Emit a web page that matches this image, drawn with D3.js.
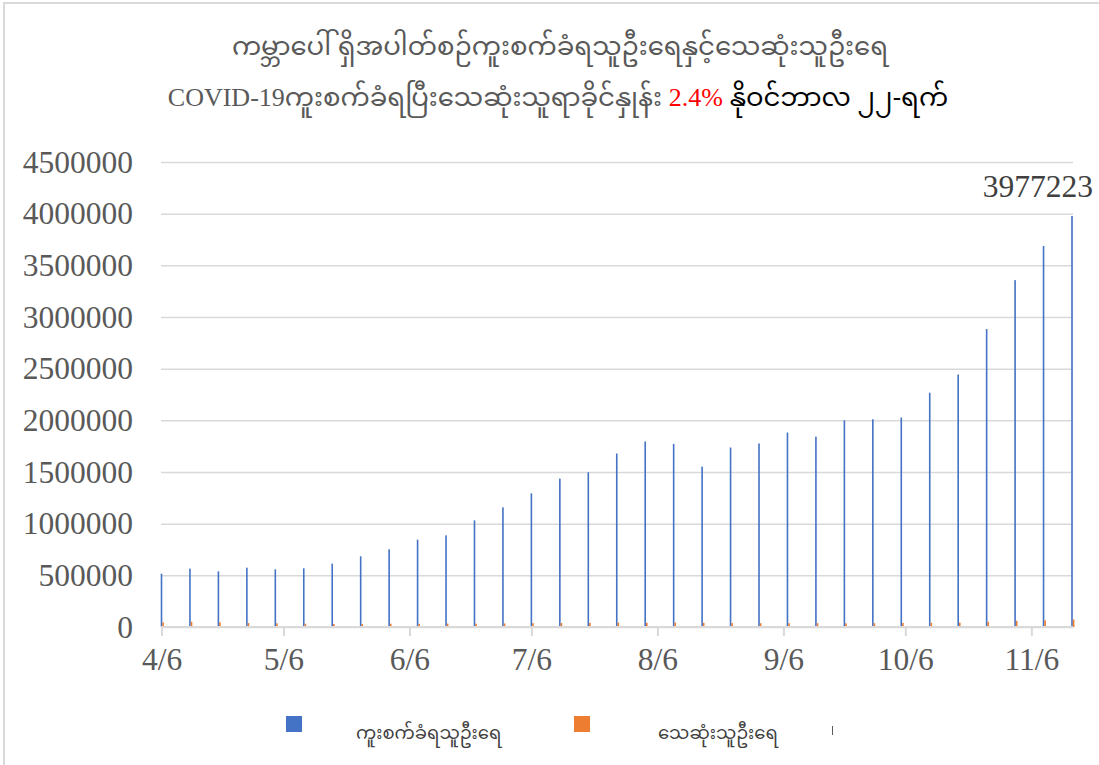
<!DOCTYPE html>
<html>
<head>
<meta charset="utf-8">
<script src="https://cdn.jsdelivr.net/npm/d3@7"></script>
<style>
  body { margin: 0; background: #fff; }
  text { font-family: "Myanmar Text", "Noto Sans Myanmar", "Padauk", "Liberation Serif", "DejaVu Serif", serif; }
</style>
</head>
<body>
<div class="container"></div>
<script>
// weekly figures, one bar per week starting 6 April
const weekStarts = [
  '2020-04-06', '2020-04-13', '2020-04-20', '2020-04-27', '2020-05-04', '2020-05-11', '2020-05-18',
  '2020-05-25', '2020-06-01', '2020-06-08', '2020-06-15', '2020-06-22', '2020-06-29', '2020-07-06',
  '2020-07-13', '2020-07-20', '2020-07-27', '2020-08-03', '2020-08-10', '2020-08-17', '2020-08-24',
  '2020-08-31', '2020-09-07', '2020-09-14', '2020-09-21', '2020-09-28', '2020-10-05', '2020-10-12',
  '2020-10-19', '2020-10-26', '2020-11-02', '2020-11-09', '2020-11-16'
];
const cases = [
  516000, 565000, 539000, 574000, 558000, 568000, 613000, 684000, 752000, 845000, 887000,
  1032000, 1158000, 1294000, 1436000, 1497000, 1679000, 1795000, 1772000, 1552000, 1737000,
  1776000, 1882000, 1842000, 2000000, 2010000, 2027000, 2267000, 2443000, 2883000, 3357000,
  3687000, 3977223
];
const deaths = [
  45000, 50000, 45000, 38000, 36000, 32000, 30000, 29000, 32000, 31000, 33000,
  32000, 34000, 37000, 39000, 40000, 42000, 41000, 43000, 40000, 38000,
  37000, 37000, 37000, 36000, 37000, 39000, 40000, 42000, 50000, 60000,
  65000, 72000
];
const yTicks = [0, 500000, 1000000, 1500000, 2000000, 2500000, 3000000, 3500000, 4000000, 4500000];
const xTicks = ['2020-04-06', '2020-05-06', '2020-06-06', '2020-07-06', '2020-08-06', '2020-09-06', '2020-10-06', '2020-11-06'];
const seriesNames = ['ကူးစက်ခံရသူဦးရေ', 'သေဆုံးသူဦးရေ', ''];
const titleLine1 = 'ကမ္ဘာပေါ် ရှိအပါတ်စဉ်ကူးစက်ခံရသူဦးရေနှင့်သေဆုံးသူဦးရေ';
const titleLine2 = ['COVID-19', 'ကူးစက်ခံရပြီးသေဆုံးသူရာခိုင်နှုန်း ', '2.4%', ' နိုဝင်ဘာလ ၂၂-ရက်'];

const w = 1099, h = 765;
const serif = '"Liberation Serif", "Times New Roman", serif';
const parse = d3.timeParse('%Y-%m-%d');
const dataset = weekStarts.map((d, i) => ({ date: parse(d), cases: cases[i], deaths: deaths[i] }));

const xScale = d3.scaleTime()
  .domain([parse('2020-04-06'), parse('2020-11-16')])
  .range([161.5, 1072]);
const yScale = d3.scaleLinear()
  .domain([0, 4500000])
  .range([627, 162]);

const colors = ['#4472C4', '#ED7D31', '#595959'];
const grid = '#d9d9d9';

const svg = d3.select('div.container')
  .append('svg')
  .attr('width', w)
  .attr('height', h);

// frame (only the top and left edges show)
svg.append('rect')
  .attr('x', 4).attr('y', 3)
  .attr('width', w + 10).attr('height', h + 10)
  .attr('fill', 'none').attr('stroke', grid).attr('stroke-width', 2);

// title
svg.append('text')
  .attr('x', 560).attr('y', 55)
  .attr('text-anchor', 'middle')
  .attr('font-size', 26)
  .attr('fill', '#595959')
  .text(titleLine1);

const t2 = svg.append('text')
  .attr('x', 558).attr('y', 106)
  .attr('text-anchor', 'middle')
  .attr('font-size', 26);
t2.append('tspan').attr('fill', '#595959').style('font-family', serif).text(titleLine2[0]);
t2.append('tspan').attr('fill', '#595959').text(titleLine2[1]);
t2.append('tspan').attr('fill', '#ff0000').style('font-family', serif).text(titleLine2[2]);
t2.append('tspan').attr('fill', '#000000').text(titleLine2[3]);

// gridlines + y labels
const yAxis = d3.axisLeft(yScale)
  .tickValues(yTicks)
  .tickSize(-(1073 - 161))
  .tickPadding(28)
  .tickFormat(d => d);

svg.append('g')
  .attr('id', 'y-axis')
  .attr('transform', 'translate(161,0)')
  .call(yAxis)
  .call(g => g.select('.domain').remove())
  .call(g => g.selectAll('line').attr('stroke', grid).attr('stroke-width', 1.5))
  .call(g => g.selectAll('text')
    .attr('font-size', 31.5)
    .attr('fill', '#595959')
    .style('font-family', serif));

// bars
svg.append('g')
  .selectAll('rect')
  .data(dataset)
  .enter()
  .append('rect')
  .attr('x', d => xScale(d.date) - 0.8)
  .attr('y', d => yScale(d.cases))
  .attr('width', 1.6)
  .attr('height', d => yScale(0) - yScale(d.cases))
  .attr('fill', colors[0]);

svg.append('g')
  .selectAll('rect')
  .data(dataset)
  .enter()
  .append('rect')
  .attr('x', d => xScale(d.date) + 0.8)
  .attr('y', d => yScale(d.deaths))
  .attr('width', 1.6)
  .attr('height', d => yScale(0) - yScale(d.deaths))
  .attr('fill', colors[1]);

// x axis
const xAxis = d3.axisBottom(xScale)
  .tickValues(xTicks.map(parse))
  .tickSize(9)
  .tickPadding(12)
  .tickFormat(d3.timeFormat('%-m/%-d'));

svg.append('g')
  .attr('id', 'x-axis')
  .attr('transform', 'translate(0,627)')
  .call(xAxis)
  .call(g => g.select('.domain')
    .attr('d', 'M161,0H1073')
    .attr('stroke', grid).attr('stroke-width', 2))
  .call(g => g.selectAll('line').attr('stroke', grid).attr('stroke-width', 2))
  .call(g => g.selectAll('text')
    .attr('font-size', 31.5)
    .attr('fill', '#595959')
    .style('font-family', serif));

// data label on the last bar
const last = dataset[dataset.length - 1];
svg.append('text')
  .attr('x', xScale(last.date) + 21)
  .attr('y', yScale(last.cases) - 19)
  .attr('text-anchor', 'end')
  .attr('font-size', 31.5)
  .attr('fill', '#404040')
  .style('font-family', serif)
  .text(last.cases);

// legend
const legX = [286, 574, 832];
const legText = [356, 658, 900];
const leg = svg.append('g').attr('id', 'legend');
seriesNames.forEach((name, i) => {
  if (i < 2) {
    leg.append('rect')
      .attr('x', legX[i]).attr('y', 716)
      .attr('width', 16).attr('height', 16)
      .attr('fill', colors[i]);
  } else {
    leg.append('rect')
      .attr('x', legX[i]).attr('y', 726)
      .attr('width', 1).attr('height', 9)
      .attr('fill', colors[i]);
  }
  leg.append('text')
    .attr('x', legText[i]).attr('y', 739)
    .attr('font-size', 18)
    .attr('fill', '#404040')
    .text(name);
});
</script>
</body>
</html>
